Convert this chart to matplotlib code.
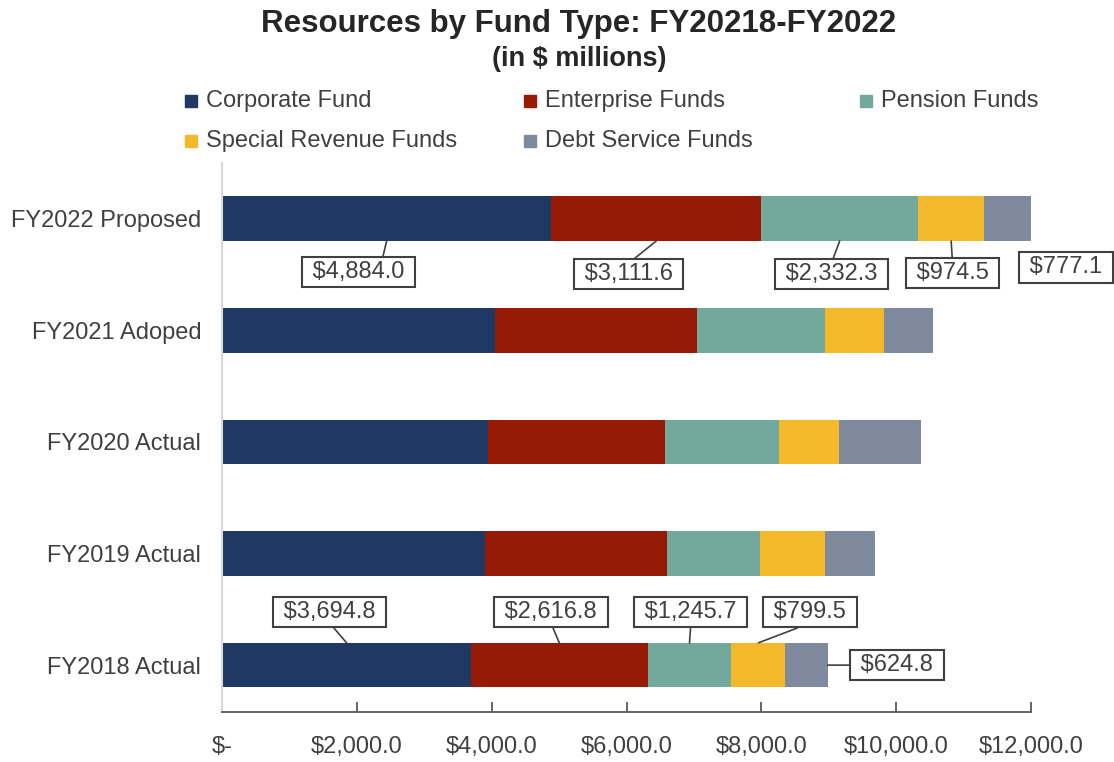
import matplotlib
matplotlib.use("Agg")
import matplotlib.pyplot as plt
from matplotlib.patches import Rectangle
import numpy as np

plt.rcParams["font.family"] = ["Liberation Sans", "DejaVu Sans"]

# data (in $ millions), bottom to top
years = ["FY2018 Actual", "FY2019 Actual", "FY2020 Actual", "FY2021 Adoped", "FY2022 Proposed"]
funds = ["Corporate Fund", "Enterprise Funds", "Pension Funds",
         "Special Revenue Funds", "Debt Service Funds"]
corporate = [3694.8, 3895.0, 3953.0, 4045.0, 4884.0]
enterprise = [2616.8, 2710.0, 2624.0, 3001.0, 3111.6]
pension = [1245.7, 1375.0, 1690.0, 1891.0, 2332.3]
special = [799.5, 957.0, 878.0, 878.0, 974.5]
debt = [624.8, 756.0, 1226.0, 727.0, 777.1]
ticks = [0, 2000, 4000, 6000, 8000, 10000, 12000]
tick_labels = ["$-", "$2,000.0", "$4,000.0", "$6,000.0", "$8,000.0", "$10,000.0", "$12,000.0"]

colors = ["#203864", "#961A05", "#73A89D", "#F4B92B", "#7F8A9E"]
txt = "#404040"

fig = plt.figure(figsize=(11.14, 7.62), dpi=100)
ax = fig.add_axes([222 / 1114, 50 / 762, 809 / 1114, 549 / 762])

series = [corporate, enterprise, pension, special, debt]
y = np.arange(len(years))
h = 0.4
left = np.zeros(len(years))
lefts = []
for vals, c, name in zip(series, colors, funds):
    ax.barh(y, vals, height=h, left=left, color=c, label=name)
    lefts.append(left.copy())
    left = left + np.array(vals)

ax.set_xlim(0, 12000)
ax.set_ylim(-0.42, 4.5)
ax.set_xticks(ticks)
ax.set_xticklabels(tick_labels)
ax.set_yticks(y)
ax.set_yticklabels(years)
ax.tick_params(axis="y", length=0, pad=15, labelsize=17, labelcolor=txt)
ax.tick_params(axis="x", direction="in", length=7, width=1.3, color="#595959",
               pad=17, labelsize=17, labelcolor=txt)
for s in ["top", "right"]:
    ax.spines[s].set_visible(False)
ax.spines["left"].set_color("#D9D9D9")
ax.spines["left"].set_linewidth(1.5)
ax.spines["bottom"].set_color("#595959")
ax.spines["bottom"].set_linewidth(1.3)

bbox = dict(boxstyle="square,pad=0.17", fc="white", ec="#404040", lw=1.5)


def leader(rx, ry):
    return dict(arrowstyle="-", color="#404040", lw=1.2, shrinkA=0, shrinkB=0,
                relpos=(rx, ry))


# FY2022 labels below the bar (offsets in points)
top = len(years) - 1
offs_top = [(-20, -22), (-20, -24), (-6, -24), (1, -23), (40, -19)]
rel_top = [0.72, 0.5, 0.5, 0.5, None]
for k, (vals, off, rx) in enumerate(zip(series, offs_top, rel_top)):
    xc = lefts[k][top] + vals[top] / 2
    ap = leader(rx, 1) if rx is not None else None
    ax.annotate(f" ${vals[top]:,.1f} ", xy=(xc, top - h / 2), xytext=off,
                textcoords="offset points", ha="center", va="center",
                fontsize=17, color=txt, bbox=bbox, arrowprops=ap)

# FY2018 labels above the bar
offs_bot = [(-12, 22), (-6, 22), (1, 22), (37, 22)]
for k, (vals, off) in enumerate(zip(series[:4], offs_bot)):
    xc = lefts[k][0] + vals[0] / 2
    ax.annotate(f" ${vals[0]:,.1f} ", xy=(xc, h / 2), xytext=off,
                textcoords="offset points", ha="center", va="center",
                fontsize=17, color=txt, bbox=bbox, arrowprops=leader(0.5, 0))
ax.annotate(f" ${debt[0]:,.1f} ", xy=(left[0], 0), xytext=(50, 0),
            textcoords="offset points", ha="center", va="center",
            fontsize=17, color=txt, bbox=bbox, arrowprops=leader(0, 0.5))

# titles
fig.text(579 / 1114, 1 - 24 / 762, "Resources by Fund Type: FY20218-FY2022", ha="center",
         va="center", fontsize=22.5, fontweight="bold", color="#262626")
fig.text(579 / 1114, 1 - 59 / 762, "(in $ millions)", ha="center", va="center",
         fontsize=19.5, fontweight="bold", color="#262626")

# legend
leg_pos = [(191, 101), (530, 101), (866, 101), (191, 141), (530, 141)]
for (px, py), c, name in zip(leg_pos, colors, funds):
    fig.add_artist(Rectangle((px / 1114 - 6 / 1114, 1 - (py + 6) / 762), 12 / 1114, 12 / 762,
                             transform=fig.transFigure, color=c))
    fig.text((px + 15) / 1114, 1 - py / 762, name, ha="left", va="center",
             fontsize=17, color=txt)

fig.savefig("out.png", dpi=100)
